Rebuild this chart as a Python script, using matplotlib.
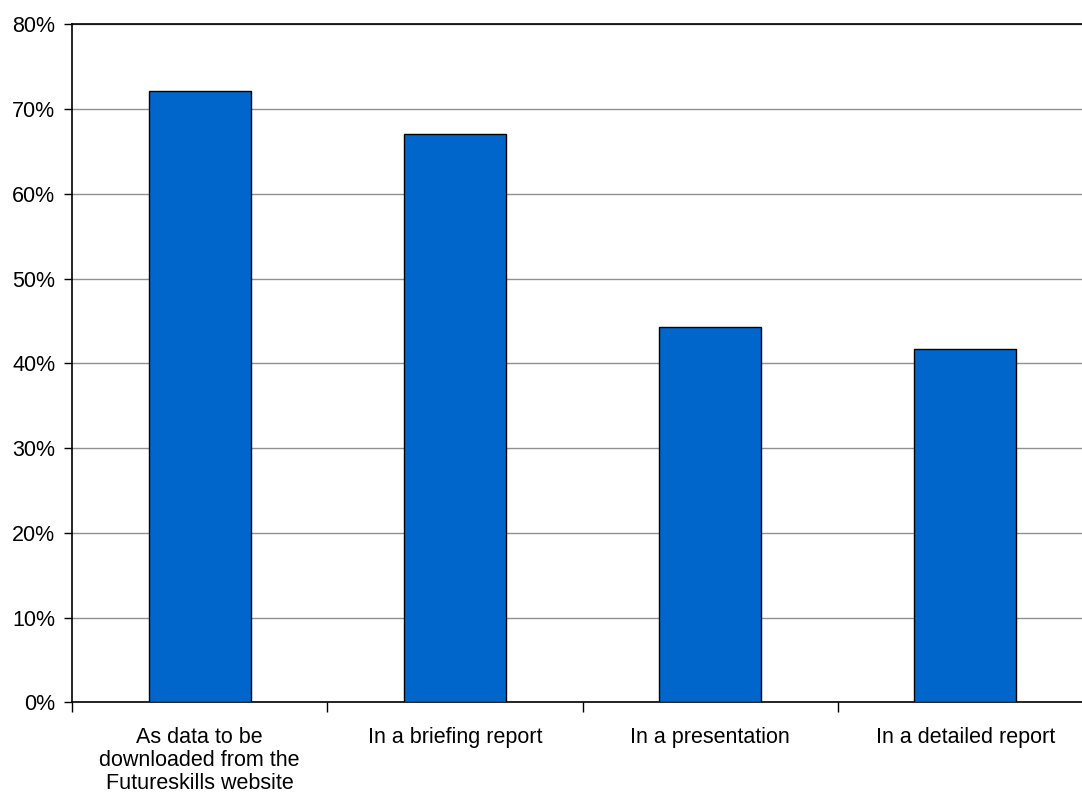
import matplotlib.pyplot as plt
import numpy as np
from matplotlib.ticker import FuncFormatter, FixedLocator

categories = [
    "As data to be\ndownloaded from the\nFutureskills website",
    "In a briefing report",
    "In a presentation",
    "In a detailed report",
]
shares = [72.1, 67.1, 44.3, 41.7]
y_ticks = [0, 10, 20, 30, 40, 50, 60, 70, 80]

plt.rcParams['font.family'] = ['Liberation Sans', 'DejaVu Sans']

fig = plt.figure(figsize=(10.82, 7.96), dpi=100)
W, H = 1082, 796
# plot area runs a bit past the right edge of the figure
ax = fig.add_axes([72 / W, (796 - 702.3) / H, (1093 - 72) / W, (702.3 - 24.3) / H])

x = np.arange(len(categories))
ax.bar(x, shares, width=0.40, color='#0066CC', edgecolor='black', linewidth=1.0, zorder=3)

ax.set_xlim(-0.5, len(categories) - 0.5)
ax.set_ylim(0, 80)

ax.set_yticks(y_ticks)
ax.yaxis.set_major_formatter(FuncFormatter(lambda v, p: f"{int(v)}%"))
ax.yaxis.grid(True, color='#909090', linewidth=1.0, zorder=0)
ax.tick_params(axis='y', length=6, width=1, labelsize=15.5, pad=6, color='black')

# ticks at category boundaries, labels at centres
ax.xaxis.set_major_locator(FixedLocator(np.arange(-0.5, len(categories), 1.0)))
ax.xaxis.set_major_formatter(FuncFormatter(lambda v, p: ""))
ax.xaxis.set_minor_locator(FixedLocator(x))
ax.set_xticklabels(categories, minor=True)
ax.tick_params(axis='x', which='major', length=7, width=1, color='black')
ax.tick_params(axis='x', which='minor', length=0, labelsize=15.5, pad=18)
for lbl in ax.get_xticklabels(minor=True):
    lbl.set_linespacing(1.12)

for side in ['left', 'bottom', 'top']:
    ax.spines[side].set_color('black')
    ax.spines[side].set_linewidth(1.2)
ax.spines['right'].set_visible(False)

fig.savefig('out.png', dpi=100)
